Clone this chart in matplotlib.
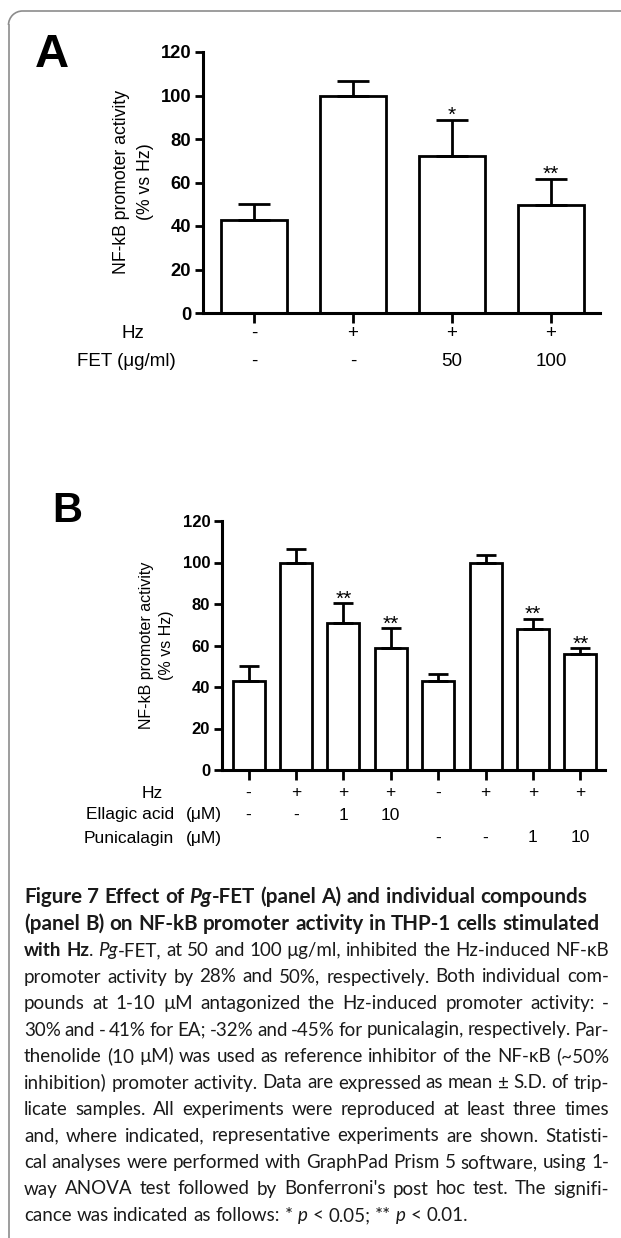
import matplotlib
matplotlib.use("Agg")
import matplotlib.pyplot as plt
import matplotlib.transforms as mtransforms
from matplotlib.font_manager import FontProperties
from matplotlib.lines import Line2D
from matplotlib.patches import Arc
import numpy as np

W, H, DPI = 621, 1238, 100

# ---------------- data ----------------
a_means = [42.6, 99.7, 72.4, 49.7]
a_sd = [7.3, 6.8, 16.4, 12.0]
a_sig = ["", "", "*", "**"]
a_hz = ["-", "+", "+", "+"]
a_fet = ["-", "-", "50", "100"]

b_means = [42.7, 100.0, 70.8, 58.6, 42.7, 100.0, 68.1, 55.7]
b_sd = [7.3, 6.7, 9.7, 9.8, 3.5, 3.4, 4.9, 2.9]
b_sig = ["", "", "**", "**", "", "", "**", "**"]
b_hz = ["-", "+", "+", "+", "-", "+", "+", "+"]
b_ea = ["-", "-", "1", "10", "", "", "", ""]
b_pun = ["", "", "", "", "-", "-", "1", "10"]

yticks = [0, 20, 40, 60, 80, 100, 120]

CHART_FONT = "Liberation Sans"
CAP_FONT = ["Lato", "Open Sans", "DejaVu Sans"]

fig = plt.figure(figsize=(W / DPI, H / DPI), dpi=DPI)
fig.patch.set_facecolor("white")


def px_axes(left, top, right, bottom):
    return fig.add_axes([left / W, 1 - bottom / H, (right - left) / W, (bottom - top) / H])


def fy(ypx):
    return 1 - ypx / H


def fx(xpx):
    return xpx / W


def bar_panel(ax, means, sd, sig, width, capsize, ticklabsize, starsize, xlim):
    x = np.arange(len(means))
    ax.bar(x, means, width=width, color="white", edgecolor="black", linewidth=2.0, zorder=2, clip_on=False)
    lower = np.zeros(len(means))
    ax.errorbar(x, means, yerr=[lower, sd], fmt="none", ecolor="black", elinewidth=2.0,
                capsize=capsize, capthick=2.0, zorder=3, clip_on=False)
    for xi, m, s, g in zip(x, means, sd, sig):
        if g:
            ax.annotate(g, xy=(xi, m + s), xytext=(0, -1.0), textcoords="offset points",
                        ha="center", va="baseline", fontsize=starsize, family=CHART_FONT)
    ax.set_xlim(*xlim)
    ax.set_ylim(0, 120)
    ax.set_yticks(yticks)
    ax.set_yticklabels([str(t) for t in yticks], fontsize=ticklabsize, fontweight="bold", family=CHART_FONT)
    ax.set_xticks(x)
    ax.set_xticklabels([""] * len(x))
    for s in ["top", "right"]:
        ax.spines[s].set_visible(False)
    for s in ["left", "bottom"]:
        ax.spines[s].set_linewidth(2.2)
    ax.tick_params(axis="y", direction="out", length=6, width=2.0, pad=2.5)
    ax.tick_params(axis="x", direction="out", length=7, width=2.0)
    ax.set_facecolor("none")
    return x


# ---------------- panel A ----------------
axA = px_axes(203, 52, 600, 313)
xA = bar_panel(axA, a_means, a_sd, a_sig, width=0.657, capsize=11.5, ticklabsize=13.2,
               starsize=15, xlim=(-0.515, 3.495))
trA = mtransforms.blended_transform_factory(axA.transData, fig.transFigure)
for xi, h, f in zip(xA, a_hz, a_fet):
    axA.text(xi, fy(333), h, transform=trA, ha="center", va="center", fontsize=13.5, family=CHART_FONT)
    axA.text(xi, fy(361), f, transform=trA, ha="center", va="center", fontsize=13.5, family=CHART_FONT)
fig.text(fx(133), fy(333), "Hz", ha="center", va="center", fontsize=13.5, family=CHART_FONT)
fig.text(fx(126), fy(361), "FET (\u03bcg/ml)", ha="center", va="center", fontsize=13.5, family=CHART_FONT)
fig.text(fx(121), fy(182), "NF-kB promoter activity", rotation=90, ha="center", va="center",
         fontsize=12.7, family=CHART_FONT)
fig.text(fx(146), fy(182), "(% vs Hz)", rotation=90, ha="center", va="center",
         fontsize=12.7, family=CHART_FONT)
fig.text(fx(35), fy(67), "A", ha="left", va="baseline", fontsize=34, fontweight="bold", family=CHART_FONT)

# ---------------- panel B ----------------
axB = px_axes(222, 521, 605, 770)
xB = bar_panel(axB, b_means, b_sd, b_sig, width=0.675, capsize=7.2, ticklabsize=12.0,
               starsize=15, xlim=(-0.56, 7.52))
trB = mtransforms.blended_transform_factory(axB.transData, fig.transFigure)
for xi, h, e, p in zip(xB, b_hz, b_ea, b_pun):
    axB.text(xi, fy(793), h, transform=trB, ha="center", va="center", fontsize=12.5, family=CHART_FONT)
    axB.text(xi, fy(815), e, transform=trB, ha="center", va="center", fontsize=12.5, family=CHART_FONT)
    axB.text(xi, fy(838), p, transform=trB, ha="center", va="center", fontsize=12.5, family=CHART_FONT)
fig.text(fx(152), fy(793), "Hz", ha="center", va="center", fontsize=12.5, family=CHART_FONT)
fig.text(fx(174), fy(815), "Ellagic acid", ha="right", va="center", fontsize=12.5, family=CHART_FONT)
fig.text(fx(174), fy(838), "Punicalagin", ha="right", va="center", fontsize=12.5, family=CHART_FONT)
fig.text(fx(186), fy(815), "(\u03bcM)", ha="left", va="center", fontsize=12.5, family=CHART_FONT)
fig.text(fx(186), fy(838), "(\u03bcM)", ha="left", va="center", fontsize=12.5, family=CHART_FONT)
fig.text(fx(146.5), fy(645), "NF-kB promoter activity", rotation=90, ha="center", va="center",
         fontsize=11.5, family=CHART_FONT)
fig.text(fx(166), fy(645), "(% vs Hz)", rotation=90, ha="center", va="center",
         fontsize=11.5, family=CHART_FONT)
fig.text(fx(52), fy(522), "B", ha="left", va="baseline", fontsize=30, fontweight="bold", family=CHART_FONT)

# ---------------- frame (top + left, rounded corner) ----------------
gray = "#8c8c8c"
r = 14
left_x, top_y = 8.5, 11
fig.add_artist(Line2D([fx(left_x + r), fx(621)], [fy(top_y), fy(top_y)], color=gray, lw=1.2,
                      transform=fig.transFigure))
fig.add_artist(Line2D([fx(left_x), fx(left_x)], [fy(top_y + r), fy(1238)], color=gray, lw=1.2,
                      transform=fig.transFigure))
fig.add_artist(Arc((fx(left_x + r), fy(top_y + r)), 2 * r / W, 2 * r / H, theta1=90, theta2=180,
                   color=gray, lw=1.2, transform=fig.transFigure))

# ---------------- caption (justified) ----------------
cap_lines = [
    ([("Figure 7 Effect of ", "b"), ("Pg", "bi"), ("-FET (panel A) and individual compounds", "b")], False),
    ([("(panel B) on NF-kB promoter activity in THP-1 cells stimulated", "b")], False),
    ([("with Hz", "b"), (". ", "r"), ("Pg", "i"),
      ("-FET, at 50 and 100 \u00b5g/ml, inhibited the Hz-induced NF-\u03baB", "r")], True),
    ([("promoter activity by 28% and 50%, respectively. Both individual com-", "r")], True),
    ([("pounds at 1-10 \u00b5M antagonized the Hz-induced promoter activity: -", "r")], True),
    ([("30% and - 41% for EA; -32% and -45% for punicalagin, respectively. Par-", "r")], True),
    ([("thenolide (10 \u00b5M) was used as reference inhibitor of the NF-\u03baB (~50%", "r")], True),
    ([("inhibition) promoter activity. Data are expressed as mean \u00b1 S.D. of trip-", "r")], True),
    ([("licate samples. All experiments were reproduced at least three times", "r")], True),
    ([("and, where indicated, representative experiments are shown. Statisti-", "r")], True),
    ([("cal analyses were performed with GraphPad Prism 5 software, using 1-", "r")], True),
    ([("way ANOVA test followed by Bonferroni's post hoc test. The signifi-", "r")], True),
    ([("cance was indicated as follows: * ", "r"), ("p", "i"), (" < 0.05; ** ", "r"), ("p", "i"),
      (" < 0.01.", "r")], False),
]

renderer = fig.canvas.get_renderer()


def cfp(style, size):
    return FontProperties(family=CAP_FONT, weight="bold" if "b" in style else "normal",
                          style="italic" if "i" in style else "normal", size=size)


def tw(s, style, size):
    w, h, d = renderer.get_text_width_height_descent(s, cfp(style, size), ismath=False)
    return w


def words_of(runs):
    words = [[]]
    for text, st in runs:
        parts = text.split(" ")
        for k, p in enumerate(parts):
            if k > 0:
                words.append([])
            if p:
                words[-1].append((p, st))
    return [w for w in words if w]


CAP_L, CAP_R = 24, 609
base = 10.0
ref_line = cap_lines[3][0]
nat = sum(tw(t, s, base) for t, s in ref_line)
cap_size = base * (CAP_R - CAP_L) * 0.985 / nat
title_line = cap_lines[0][0]
nat_t = sum(tw(t, s, base) for t, s in title_line)
title_size = base * (586 - CAP_L) / nat_t

for i, (runs, justify) in enumerate(cap_lines):
    size = title_size if i < 2 else cap_size
    ybase = 903 + 26.5 * i
    words = words_of(runs)
    widths = [sum(tw(t, s, size) for t, s in w) for w in words]
    if justify and len(words) > 1:
        gap = (CAP_R - CAP_L - sum(widths)) / (len(words) - 1)
    else:
        gap = tw("a b", "r", size) - tw("ab", "r", size)
    x = CAP_L
    for w, wd in zip(words, widths):
        xx = x
        for t, s in w:
            fig.text(fx(xx), fy(ybase), t, fontproperties=cfp(s, size), ha="left", va="baseline",
                     color="#1a1a1a")
            xx += tw(t, s, size)
        x += wd + gap

fig.savefig("out.png", dpi=DPI, facecolor="white")
